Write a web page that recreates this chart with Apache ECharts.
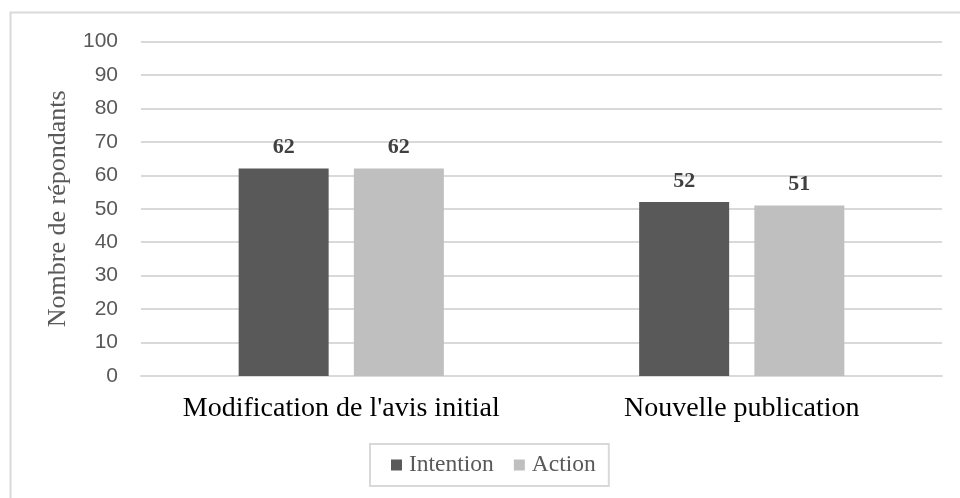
<!DOCTYPE html>
<html>
<head>
<meta charset="utf-8">
<script src="https://cdn.jsdelivr.net/npm/echarts@6/dist/echarts.min.js"></script>
<style>html,body{margin:0;padding:0;background:#fff}#c{width:960px;height:498px}</style>
</head>
<body>
<div id="c"></div>
<script>
const categories = ["Modification de l'avis initial", "Nouvelle publication"];
const seriesNames = ["Intention", "Action"];
const intention = [62, 52];
const action = [62, 51];
const yTicks = { min: 0, max: 100, interval: 10 };

const chart = echarts.init(document.getElementById('c'), null, { renderer: 'canvas' });
const serif = '"Liberation Serif", "DejaVu Serif", serif';
const sans = '"Liberation Sans", Arial, sans-serif';
const labelStyle = {
  show: true, position: 'top', distance: 10,
  fontFamily: serif, fontWeight: 'bold', fontSize: 22, color: '#404040'
};
chart.setOption({
  animation: false,
  graphic: [{
    type: 'rect', silent: true,
    shape: { x: 10.5, y: 12.5, width: 1000, height: 1000 },
    style: { fill: 'none', stroke: '#d9d9d9', lineWidth: 2 }
  }],
  grid: { left: 141, right: 18, top: 41.5, bottom: 122 },
  legend: {
    data: seriesNames,
    left: 370, top: 444,
    borderColor: '#d9d9d9', borderWidth: 2,
    padding: [9, 13, 9, 21],
    itemWidth: 11, itemHeight: 11, itemGap: 20,
    icon: 'rect',
    textStyle: { fontFamily: serif, fontSize: 23.5, color: '#595959', padding: [0, 0, 0, 2] }
  },
  xAxis: {
    type: 'category', data: categories,
    axisLine: { show: true, lineStyle: { color: '#d9d9d9', width: 2 } },
    axisTick: { show: false },
    axisLabel: { interval: 0, fontFamily: serif, fontSize: 28, color: '#000', margin: 19 }
  },
  yAxis: {
    type: 'value', min: yTicks.min, max: yTicks.max, interval: yTicks.interval,
    name: 'Nombre de répondants', nameLocation: 'middle', nameGap: 70,
    nameTextStyle: { fontFamily: serif, fontSize: 26, color: '#595959' },
    axisLine: { show: false }, axisTick: { show: false },
    axisLabel: { fontFamily: sans, fontSize: 21, color: '#595959', margin: 23 },
    splitLine: { lineStyle: { color: '#d9d9d9', width: 2 } }
  },
  series: [
    { name: seriesNames[0], type: 'bar', data: intention, barWidth: 90, barGap: '28%',
      itemStyle: { color: '#595959' }, label: labelStyle },
    { name: seriesNames[1], type: 'bar', data: action, barWidth: 90,
      itemStyle: { color: '#bfbfbf' }, label: labelStyle }
  ]
});
</script>
</body>
</html>
